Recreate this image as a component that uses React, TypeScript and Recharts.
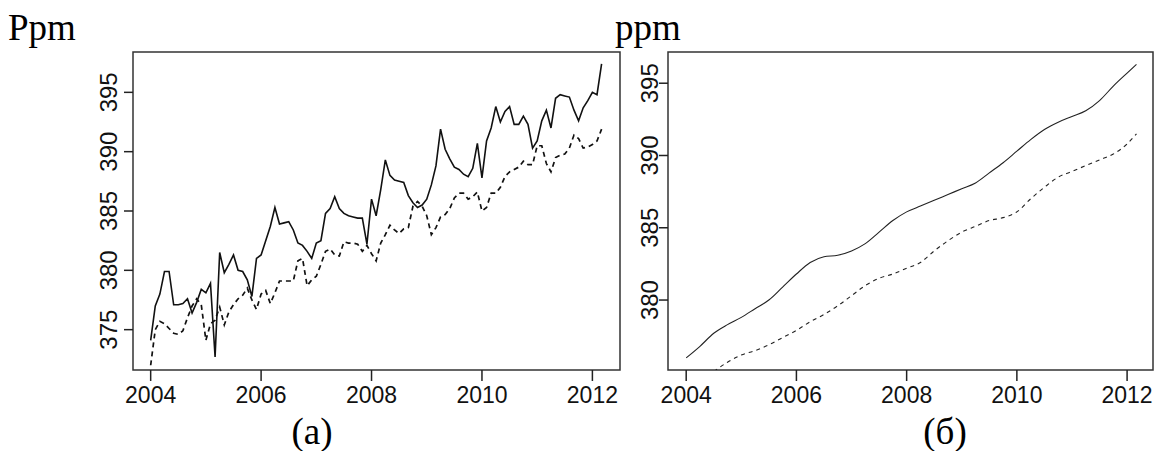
import React from 'react';
import { LineChart, Line, XAxis, YAxis, ReferenceArea } from 'recharts';

// monthly observations, Jan 2004 .. Mar 2012
const observed = [
  374.1, 377.0, 378.0, 379.9, 379.9, 377.1, 377.1, 377.2, 377.6, 376.4, 377.3, 378.4,
  378.1, 378.9, 372.7, 381.5, 379.8, 380.5, 381.3, 380.0, 379.9, 379.2, 377.8, 381.0,
  381.3, 382.5, 383.7, 385.3, 383.9, 384.0, 384.1, 383.4, 382.3, 382.1, 381.6, 381.0,
  382.3, 382.5, 384.8, 385.2, 386.2, 385.2, 384.8, 384.6, 384.5, 384.4, 384.4, 382.2,
  386.0, 384.6, 386.8, 389.3, 388.0, 387.6, 387.5, 387.4, 386.3, 385.7, 385.3, 385.5,
  386.0, 387.2, 388.8, 391.9, 390.2, 389.4, 388.7, 388.5, 388.1, 387.9, 388.6, 390.7,
  387.8, 390.9, 392.0, 393.8, 392.5, 393.4, 393.8, 392.3, 392.3, 393.0, 392.3, 390.3,
  390.9, 392.6, 393.5, 392.0, 394.5, 394.8, 394.7, 394.6, 393.5, 392.6, 393.7, 394.3,
  395.0, 394.8, 397.4,
];

const modelled = [
  372.0, 375.0, 375.7, 375.5, 375.1, 374.7, 374.6, 374.9, 376.0, 377.0, 377.6, 377.1,
  374.1, 375.5, 375.8, 376.9, 375.4, 376.5, 377.1, 377.6, 377.9, 378.5, 377.5, 376.7,
  378.0, 378.3, 377.2, 378.1, 379.1, 379.1, 379.1, 379.1, 380.8, 381.0, 378.7, 379.2,
  379.5, 380.5, 381.6, 381.8, 381.3, 381.2, 382.4, 382.3, 382.3, 382.2, 381.6, 382.1,
  381.4, 380.8, 382.3, 383.0, 383.8, 383.4, 383.1, 383.5, 383.6, 385.4, 385.8, 385.4,
  384.6, 383.0, 383.6, 384.5, 384.7, 385.2, 386.1, 386.5, 386.5, 386.0, 386.2, 386.6,
  385.0, 385.3, 386.5, 386.5, 387.0, 387.9, 388.3, 388.5, 388.7, 389.2, 388.9, 388.9,
  390.5, 390.5, 389.0, 388.3, 389.5, 389.7, 389.8, 390.3, 391.4, 391.1, 390.3, 390.4,
  390.6, 390.9, 391.9,
];

const months = observed.map((_, i) => 2004 + i / 12);

// trend components, quarterly + Mar 2012
const trendTimes = [...Array(33)].map((_, k) => 2004 + k / 4).concat([2012.17]);
const observedTrend = [
  376.0, 376.8, 377.7, 378.3, 378.8, 379.4, 380.0, 380.9, 381.8, 382.6, 383.0, 383.1,
  383.4, 383.9, 384.7, 385.5, 386.1, 386.5, 386.9, 387.3, 387.7, 388.1, 388.8, 389.5,
  390.3, 391.1, 391.8, 392.3, 392.7, 393.1, 393.8, 394.8, 395.7, 396.3,
];
const modelledTrend = [
  null, null, 375.05, 375.7, 376.2, 376.5, 376.9, 377.4, 377.9, 378.5, 379.0, 379.6,
  380.3, 381.0, 381.5, 381.8, 382.2, 382.6, 383.4, 384.1, 384.7, 385.1, 385.5, 385.7,
  386.1, 387.0, 387.8, 388.5, 388.9, 389.3, 389.7, 390.1, 390.8, 391.5,
];

const yearTicks = [2004, 2006, 2008, 2010, 2012];
const leftYTicks = [375, 380, 385, 390, 395];
const rightYTicks = [380, 385, 390, 395];

const leftRows = months.map((t, i) => ({ t, obs: observed[i], mod: modelled[i] }));
const rightRows = trendTimes.map((t, i) => ({ t, obs: observedTrend[i], mod: modelledTrend[i] }));

const SANS = 'Liberation Sans, Arial, sans-serif';
const SERIF = 'Liberation Serif, Times New Roman, serif';

function XTick({ x, y, payload }: any) {
  return (
    <text x={x} y={y + 22} textAnchor="middle" fontSize={23} fontFamily={SANS} fill="#111">
      {payload.value}
    </text>
  );
}

function makeYTick(shift: number) {
  return ({ x, y, payload }: any) => {
    const cx = x - shift;
    return (
      <text
        x={cx}
        y={y}
        dy="0.35em"
        transform={`rotate(-90 ${cx} ${y})`}
        textAnchor="middle"
        fontSize={24}
        fontFamily={SANS}
        fill="#111"
      >
        {payload.value}
      </text>
    );
  };
}

const leftX: [number, number] = [2003.68, 2012.5];
const leftY: [number, number] = [371.6, 398.4];
const rightX: [number, number] = [2003.67, 2012.47];
const rightY: [number, number] = [375.16, 397.16];

export default function App() {
  return (
    <div style={{ position: 'absolute', left: 0, top: 0, width: 1155, height: 451, background: '#fff' }}>
      <div style={{ position: 'absolute', left: 0, top: 0 }}>
        <LineChart width={640} height={451} data={leftRows} margin={{ top: 52, right: 20, bottom: 41, left: 83 }}>
          <XAxis
            type="number"
            dataKey="t"
            domain={leftX}
            ticks={yearTicks}
            allowDataOverflow
            axisLine={false}
            tickSize={11}
            tickMargin={0}
            tickLine={{ stroke: '#222', strokeWidth: 1.5 }}
            tick={<XTick />}
            height={40}
          />
          <YAxis
            domain={leftY}
            ticks={leftYTicks}
            allowDataOverflow
            axisLine={false}
            tickSize={9}
            tickMargin={0}
            tickLine={{ stroke: '#222', strokeWidth: 1.5 }}
            tick={makeYTick(15)}
            width={50}
          />
          <ReferenceArea x1={leftX[0]} x2={leftX[1]} y1={leftY[0]} y2={leftY[1]} fill="none" stroke="#333" strokeWidth={1.5} ifOverflow="visible" />
          <Line type="linear" dataKey="mod" stroke="#111" strokeWidth={1.7} strokeDasharray="5 4" dot={false} isAnimationActive={false} />
          <Line type="linear" dataKey="obs" stroke="#111" strokeWidth={1.6} dot={false} isAnimationActive={false} />
        </LineChart>
      </div>
      <div style={{ position: 'absolute', left: 600, top: 0 }}>
        <LineChart width={555} height={451} data={rightRows} margin={{ top: 52, right: 2, bottom: 41, left: 18 }}>
          <XAxis
            type="number"
            dataKey="t"
            domain={rightX}
            ticks={yearTicks}
            allowDataOverflow
            axisLine={false}
            tickSize={11}
            tickMargin={0}
            tickLine={{ stroke: '#222', strokeWidth: 1.5 }}
            tick={<XTick />}
            height={40}
          />
          <YAxis
            domain={rightY}
            ticks={rightYTicks}
            allowDataOverflow
            axisLine={false}
            tickSize={9}
            tickMargin={0}
            tickLine={{ stroke: '#222', strokeWidth: 1.5 }}
            tick={makeYTick(9)}
            width={50}
          />
          <ReferenceArea x1={rightX[0]} x2={rightX[1]} y1={rightY[0]} y2={rightY[1]} fill="none" stroke="#333" strokeWidth={1.5} ifOverflow="visible" />
          <Line type="monotone" dataKey="mod" stroke="#222" strokeWidth={1.1} strokeDasharray="4 4" dot={false} connectNulls={false} isAnimationActive={false} />
          <Line type="monotone" dataKey="obs" stroke="#222" strokeWidth={1.1} dot={false} isAnimationActive={false} />
        </LineChart>
      </div>
      <svg width={1155} height={451} style={{ position: 'absolute', left: 0, top: 0, pointerEvents: 'none' }}>
        <text x={8} y={40} fontSize={37} fontFamily={SERIF} fill="#000">Ppm</text>
        <text x={615} y={40} fontSize={37} fontFamily={SERIF} fill="#000">ppm</text>
        <text x={312} y={444} textAnchor="middle" fontSize={37} fontFamily={SERIF} fill="#000">(a)</text>
        <text x={945} y={444} textAnchor="middle" fontSize={37} fontFamily={SERIF} fill="#000">(б)</text>
      </svg>
    </div>
  );
}
